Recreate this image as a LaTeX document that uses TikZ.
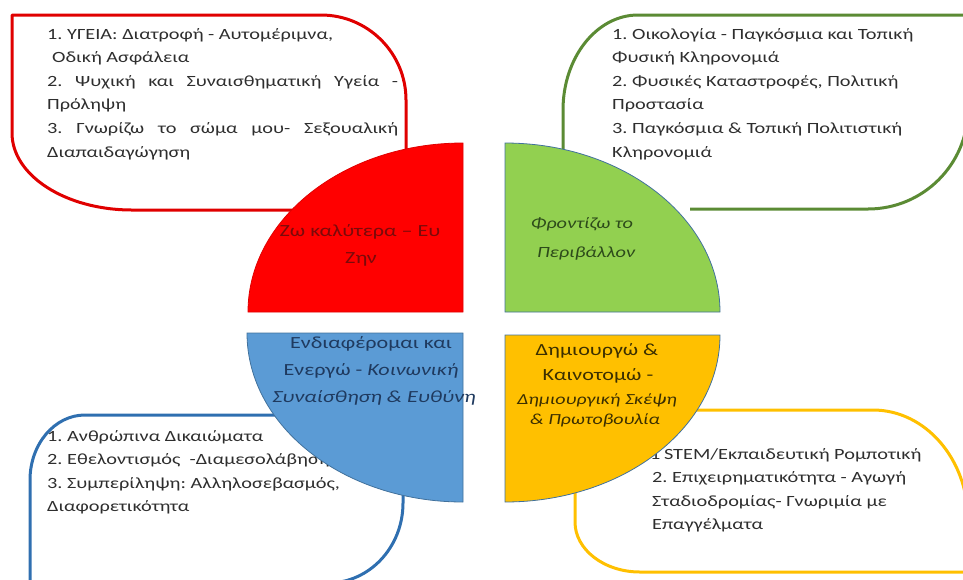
\documentclass[tikz,border=0pt]{standalone}
\usepackage{fontspec}
\setmainfont{Carlito}[FakeStretch=1.3]
\definecolor{redline}{HTML}{E00000}
\definecolor{greenline}{HTML}{5B8B34}
\definecolor{blueline}{HTML}{2F6FB0}
\definecolor{yellowline}{HTML}{FFC000}
\definecolor{redfill}{HTML}{FF0000}
\definecolor{greenfill}{HTML}{92D050}
\definecolor{bluefill}{HTML}{5B9BD5}
\definecolor{yellowfill}{HTML}{FFC000}
\definecolor{quadline}{HTML}{41719C}
\definecolor{bodytext}{HTML}{2E2E2E}
\definecolor{redtext}{HTML}{7A0A0A}
\definecolor{greentext}{HTML}{2D4B1A}
\definecolor{bluetext}{HTML}{1F3A5F}
\definecolor{yellowtext}{HTML}{3B2F00}
\frenchspacing
\begin{document}
\begin{tikzpicture}[x=1pt,y=-1pt,
  framebox/.style={line width=3pt, line join=round},
  quad/.style={draw=quadline, line width=0.8pt},
  body/.style={anchor=base west, inner sep=0pt, text=bodytext, font=\fontsize{15.6}{18}\selectfont},
  lab/.style={anchor=base, inner sep=0pt, font=\fontsize{17}{20}\selectfont},
  labsmall/.style={anchor=base, inner sep=0pt, font=\fontsize{15.4}{18}\selectfont\itshape}]
\useasboundingbox (0,0) rectangle (963,579);

% ---- frames ----
\draw[framebox, draw=redline] (406,170) -- (406,100)
  .. controls (406,53.1) and (368,15) .. (321,15) -- (12,15) -- (12,133)
  .. controls (12,175.5) and (65.7,210) .. (132,210) -- (320,210);
\draw[framebox, draw=greenline] (690,209) -- (868,209)
  .. controls (923.2,209) and (968,164.2) .. (968,109) -- (968,15) -- (638,15)
  .. controls (596.6,15) and (563,57.5) .. (563,110) -- (563,170);
\draw[framebox, draw=blueline] (320,415) -- (85,415)
  .. controls (54.6,415) and (30,444.1) .. (30,480) -- (30,590) -- (328,583)
  .. controls (369.4,583) and (403,547.2) .. (403,503) -- (403,470);
\draw[framebox, draw=yellowline] (650,410) -- (873,410)
  .. controls (925.5,410) and (968,459.3) .. (968,520) -- (968,572) -- (640,572)
  .. controls (604.1,572) and (575,549.6) .. (575,522) -- (575,470);

% ---- texts in frames ----
\node[body] (r1) at (47,39) {1. ΥΓΕΙΑ: Διατροφή - Αυτομέριμνα,};
\node[body] (r2) at (52,62.6) {Οδική Ασφάλεια};
\node[body] (r3) at (47,86.2) {\makebox[351pt][s]{2. Ψυχική και Συναισθηματική Υγεία -}};
\node[body] (r4) at (47,109.8) {Πρόληψη};
\node[body] (r5) at (47,133.4) {\makebox[351pt][s]{3. Γνωρίζω το σώμα μου- Σεξουαλική}};
\node[body] (r6) at (47,157) {Διαπαιδαγώγηση};

\node[body] (g1) at (612,39) {1. Οικολογία - Παγκόσμια και Τοπική};
\node[body] (g2) at (612,62.6) {Φυσική Κληρονομιά};
\node[body] (g3) at (612,86.2) {2. Φυσικές Καταστροφές, Πολιτική};
\node[body] (g4) at (612,109.8) {Προστασία};
\node[body] (g5) at (612,133.4) {3. Παγκόσμια \& Τοπική Πολιτιστική};
\node[body] (g6) at (612,157) {Κληρονομιά};

\node[body] (b1) at (47,441) {1. Ανθρώπινα Δικαιώματα};
\node[body] (b2) at (47,464.6) {2. Εθελοντισμός\ \ -Διαμεσολάβηση};
\node[body] (b3) at (47,488.2) {3. Συμπερίληψη: Αλληλοσεβασμός,};
\node[body] (b4) at (47,511.8) {Διαφορετικότητα};

\node[body] (y1) at (650,459) {1\kern-1pt\ STEM/Εκπαιδευτική Ρομποτική};
\node[body] (y2) at (652,482.6) {2. Επιχειρηματικότητα - Αγωγή};
\node[body] (y3) at (652,506.2) {Σταδιοδρομίας- Γνωριμία με};
\node[body] (y4) at (652,529.8) {Επαγγέλματα};

% ---- quadrants ----
\filldraw[fill=redfill, draw=redline, line width=0.8pt] (248,312)
  .. controls (248,218.7) and (344.3,143) .. (463,143) -- (463,312) -- cycle;
\filldraw[quad, fill=greenfill] (505,143)
  .. controls (623.7,143) and (720,218.7) .. (720,312) -- (505,312) -- cycle;
\filldraw[quad, fill=bluefill] (247,333)
  .. controls (247,426.3) and (343.7,502) .. (463,502) -- (463,333) -- cycle;
\filldraw[quad, fill=yellowfill] (720,335)
  .. controls (720,427.2) and (623.7,502) .. (505,502) -- (505,335) -- cycle;

% ---- quadrant labels ----
\node[lab, text=redtext] (qr1) at (360,236) {Ζω καλύτερα – Ευ};
\node[lab, text=redtext] (qr2) at (361,263) {Ζην};
\node[lab, text=greentext, font=\fontsize{15.6}{18}\selectfont\itshape] (qg1) at (582,228) {Φροντίζω το};
\node[lab, text=greentext, font=\fontsize{15.6}{18}\selectfont\itshape] (qg2) at (586,257) {Περιβάλλον};
\node[lab, text=bluetext] (qb1) at (371,348) {Ενδιαφέρομαι και};
\node[lab, text=bluetext] (qb2) at (371,375) {Ενεργώ - \textit{Κοινωνική}};
\node[lab, text=bluetext] (qb3) at (374,402) {\textit{Συναίσθηση \& Ευθύνη}};
\node[lab, text=yellowtext] (qy1) at (597,355) {Δημιουργώ \&};
\node[lab, text=yellowtext] (qy2) at (598,380) {Καινοτομώ -};
\node[labsmall, text=yellowtext] (qy3) at (597,404) {Δημιουργική Σκέψη};
\node[labsmall, text=yellowtext] (qy4) at (595,424) {\& Πρωτοβουλία};
\end{tikzpicture}
\end{document}
